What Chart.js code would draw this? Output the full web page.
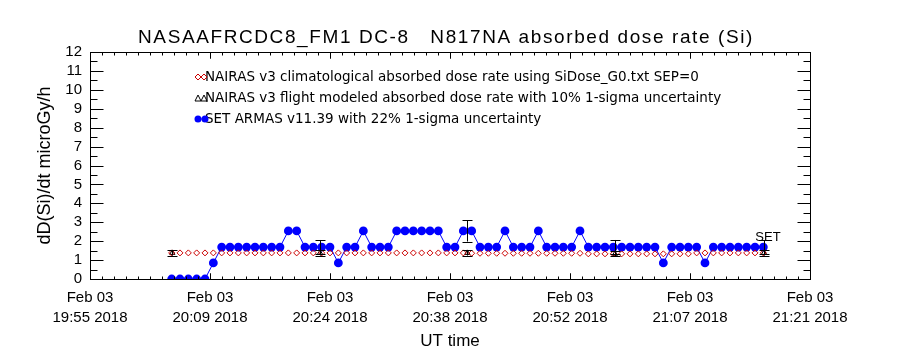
<!DOCTYPE html>
<html>
<head>
<meta charset="utf-8">
<script src="https://cdn.jsdelivr.net/npm/chart.js@4.4.1/dist/chart.umd.min.js"></script>
<style>
  html, body { margin: 0; padding: 0; background: #fff; }
  #wrap { width: 900px; height: 350px; }
</style>
</head>
<body>
<div id="wrap"><canvas id="doseChart" width="900" height="350"></canvas></div>
<script>
// --- data (x in minutes after 19:55 UT) ---
const axisMinutes = 86.4;
const tickMinutes = [0, 14.4, 28.8, 43.2, 57.6, 72.0, 86.4];
const tickLabels = [
  ['Feb 03', '19:55 2018'], ['Feb 03', '20:09 2018'], ['Feb 03', '20:24 2018'],
  ['Feb 03', '20:38 2018'], ['Feb 03', '20:52 2018'], ['Feb 03', '21:07 2018'],
  ['Feb 03', '21:21 2018']
];

// one ARMAS sample per minute, first one at 9.8 min
const sampleStart = 9.8;
const armasDose = [
  0, 0, 0, 0, 0, 0.85, 1.69, 1.69, 1.69, 1.69, 1.69, 1.69, 1.69, 1.69,
  2.54, 2.54, 1.69, 1.69, 1.69, 1.69, 0.85, 1.69, 1.69, 2.54, 1.69, 1.69, 1.69,
  2.54, 2.54, 2.54, 2.54, 2.54, 2.54, 1.69, 1.69, 2.54, 2.54, 1.69, 1.69, 1.69,
  2.54, 1.69, 1.69, 1.69, 2.54, 1.69, 1.69, 1.69, 1.69, 2.54,
  1.69, 1.69, 1.69, 1.69, 1.69, 1.69, 1.69, 1.69, 1.69, 0.85,
  1.69, 1.69, 1.69, 1.69, 0.85, 1.69, 1.69, 1.69, 1.69, 1.69, 1.69, 1.69
];
const nairasClim = [
  1.38, 1.38, 1.38, 1.38, 1.38, 1.38, 1.38, 1.38, 1.38, 1.38, 1.38, 1.38, 1.38, 1.38,
  1.38, 1.38, 1.38, 1.38, 1.38, 1.38, 1.38, 1.38, 1.38, 1.38, 1.38, 1.38, 1.38,
  1.38, 1.38, 1.38, 1.38, 1.38, 1.38, 1.38, 1.38, 1.38, 1.36, 1.36, 1.36, 1.36,
  1.36, 1.36, 1.36, 1.36, 1.36, 1.36, 1.36, 1.36, 1.36, 1.36,
  1.33, 1.33, 1.33, 1.33, 1.33, 1.33, 1.33, 1.33, 1.33, 1.33,
  1.33, 1.33, 1.33, 1.38, 1.38, 1.38, 1.38, 1.38, 1.38, 1.38, 1.38, 1.38
];

// NAIRAS flight-modeled points (with 10% bars) and ARMAS 22% bars at the same times
const flightMinutes = [9.88, 27.6, 45.28, 63.0, 80.88];
const nairasFlight = [1.38, 1.38, 1.38, 1.33, 1.38];
const armasAtFlight = [0, 1.69, 2.54, 1.69, 1.69];
const flightErr = 0.10;
const armasErr = 0.22;

const titleText = 'NASAAFRCDC8_FM1 DC-8   N817NA absorbed dose rate (Si)';
const legendLines = [
  'NAIRAS v3 climatological absorbed dose rate using SiDose_G0.txt SEP=0',
  'NAIRAS v3 flight modeled absorbed dose rate with 10% 1-sigma uncertainty',
  'SET ARMAS v11.39 with 22% 1-sigma uncertainty'
];

const BLUE = '#0000ff';
const RED = '#cc0000';
const FONT = 'DejaVu Sans';
const SANS = '"Liberation Sans"';

Chart.defaults.font.family = SANS;
Chart.defaults.color = '#000';

const armasPts = armasDose.map((v, i) => ({ x: sampleStart + i, y: v }));
const climPts = nairasClim.map((v, i) => ({ x: sampleStart + i, y: v }));
const flightPts = nairasFlight.map((v, i) => ({ x: flightMinutes[i], y: v }));

// title, frame, inward ticks, error bars, legend and the SET tag
const decorPlugin = {
  id: 'decor',
  beforeDraw(chart) {
    const { ctx } = chart;
    ctx.save();
    ctx.fillStyle = '#000';
    ctx.font = '19px ' + SANS;
    ctx.letterSpacing = '1.6px';
    ctx.textAlign = 'center';
    ctx.textBaseline = 'middle';
    ctx.fillText(titleText, 446, 38);
    ctx.restore();
  },
  afterDatasetsDraw(chart) {
    const { ctx, scales: { x, y } } = chart;
    ctx.save();
    ctx.strokeStyle = '#000';
    ctx.lineWidth = 1;
    const bar = (xm, v, frac) => {
      if (!v) return;
      const px = Math.round(x.getPixelForValue(xm)) + 0.5;
      const top = y.getPixelForValue(v * (1 + frac));
      const bot = y.getPixelForValue(v * (1 - frac));
      ctx.beginPath();
      ctx.moveTo(px, top); ctx.lineTo(px, bot);
      ctx.moveTo(px - 5, Math.round(top) + 0.5); ctx.lineTo(px + 5, Math.round(top) + 0.5);
      ctx.moveTo(px - 5, Math.round(bot) + 0.5); ctx.lineTo(px + 5, Math.round(bot) + 0.5);
      ctx.stroke();
    };
    flightMinutes.forEach((m, i) => {
      bar(m, nairasFlight[i], flightErr);
      bar(m, armasAtFlight[i], armasErr);
    });
    // SET tag beside the last ARMAS sample
    const last = armasPts[armasPts.length - 1];
    ctx.fillStyle = '#000';
    ctx.font = '13px ' + SANS;
    ctx.textBaseline = 'alphabetic';
    ctx.fillText('SET', x.getPixelForValue(last.x) - 8, y.getPixelForValue(last.y) - 6);
    ctx.restore();
  },
  afterDraw(chart) {
    const { ctx, chartArea: a, scales: { x, y } } = chart;
    ctx.save();
    ctx.strokeStyle = '#000';
    ctx.lineWidth = 1;
    const L = Math.round(a.left) + 0.5, R = Math.round(a.right) + 0.5;
    const T = Math.round(a.top) + 0.5, B = Math.round(a.bottom) + 0.5;
    ctx.strokeRect(L, T, R - L, B - T);
    ctx.beginPath();
    for (let v = 0; v <= 12; v += 0.5) {
      const py = Math.round(y.getPixelForValue(v)) + 0.5;
      const len = Number.isInteger(v) ? 13 : 7;
      ctx.moveTo(L, py); ctx.lineTo(L + len, py);
      ctx.moveTo(R, py); ctx.lineTo(R - len, py);
    }
    for (let k = 0; k < tickMinutes.length - 1; k++) {
      for (let j = 0; j <= 10; j++) {
        const m = tickMinutes[k] + (tickMinutes[k + 1] - tickMinutes[k]) * j / 10;
        const px = Math.round(x.getPixelForValue(m)) + 0.5;
        const len = (j === 0 || j === 10) ? 6 : 3;
        ctx.moveTo(px, B); ctx.lineTo(px, B - len);
        ctx.moveTo(px, T); ctx.lineTo(px, T + len);
      }
    }
    ctx.stroke();

    // legend inside the plot
    const lx = 198, tx = 205, rows = [77, 98, 119];
    ctx.font = '13.5px ' + FONT;
    ctx.textBaseline = 'middle';
    ctx.fillStyle = '#000';
    legendLines.forEach((t, i) => ctx.fillText(t, tx, rows[i]));
    // climatological: two open diamonds
    ctx.strokeStyle = RED;
    [lx, lx + 6].forEach(cx => {
      const cy = rows[0];
      ctx.beginPath();
      ctx.moveTo(cx, cy - 3); ctx.lineTo(cx + 3, cy); ctx.lineTo(cx, cy + 3); ctx.lineTo(cx - 3, cy); ctx.closePath();
      ctx.stroke();
    });
    // flight modeled: two open triangles
    ctx.strokeStyle = '#000';
    [lx, lx + 6].forEach(cx => {
      const cy = rows[1];
      ctx.beginPath();
      ctx.moveTo(cx, cy - 3); ctx.lineTo(cx + 3, cy + 3); ctx.lineTo(cx - 3, cy + 3); ctx.closePath();
      ctx.stroke();
    });
    // ARMAS: blue dots joined by a line
    ctx.fillStyle = BLUE;
    ctx.strokeStyle = BLUE;
    ctx.beginPath(); ctx.moveTo(lx, rows[2]); ctx.lineTo(lx + 7, rows[2]); ctx.stroke();
    [lx, lx + 7].forEach(cx => {
      ctx.beginPath(); ctx.arc(cx, rows[2], 3.5, 0, Math.PI * 2); ctx.fill();
    });
    ctx.restore();
  }
};

new Chart(document.getElementById('doseChart').getContext('2d'), {
  type: 'scatter',
  data: {
    datasets: [
      {
        label: 'NAIRAS climatological',
        data: climPts,
        pointStyle: 'rectRot',
        pointRadius: 3,
        pointBorderWidth: 1,
        pointBorderColor: RED,
        pointBackgroundColor: 'rgba(0,0,0,0)',
        showLine: false
      },
      {
        label: 'NAIRAS flight modeled',
        data: flightPts,
        pointStyle: 'triangle',
        pointRadius: 3,
        pointBorderWidth: 1,
        pointBorderColor: '#000',
        pointBackgroundColor: 'rgba(0,0,0,0)',
        showLine: false
      },
      {
        label: 'SET ARMAS',
        data: armasPts,
        showLine: true,
        borderColor: BLUE,
        borderWidth: 1,
        pointRadius: 4.4,
        pointBorderWidth: 0,
        pointBackgroundColor: BLUE,
        pointBorderColor: BLUE
      }
    ]
  },
  options: {
    responsive: false,
    animation: false,
    events: [],
    layout: { padding: { left: 0, right: 90, top: 52, bottom: 0 } },
    plugins: {
      legend: { display: false },
      tooltip: { enabled: false },
      title: { display: false }
    },
    scales: {
      x: {
        type: 'linear',
        min: 0,
        max: axisMinutes,
        afterBuildTicks: s => { s.ticks = tickMinutes.map(v => ({ value: v })); },
        afterFit: s => { s.height = 71; },
        grid: { display: false, drawTicks: false },
        border: { display: false },
        ticks: {
          autoSkip: false,
          maxRotation: 0,
          padding: 9,
          font: { size: 15, lineHeight: '20px' },
          callback: (v, i) => tickLabels[i]
        },
        title: {
          display: true,
          text: 'UT time',
          font: { size: 17, lineHeight: 1 },
          padding: { top: 0, bottom: 0 }
        }
      },
      y: {
        min: 0,
        max: 12,
        afterFit: s => { s.width = 90; },
        grid: { display: false, drawTicks: false },
        border: { display: false },
        ticks: { stepSize: 1, autoSkip: false, padding: 8, font: { size: 15 } },
        title: {
          display: true,
          text: 'dD(Si)/dt microGy/h',
          font: { size: 18 },
          padding: { top: 34, bottom: 0 }
        }
      }
    }
  },
  plugins: [decorPlugin]
});
</script>
</body>
</html>
